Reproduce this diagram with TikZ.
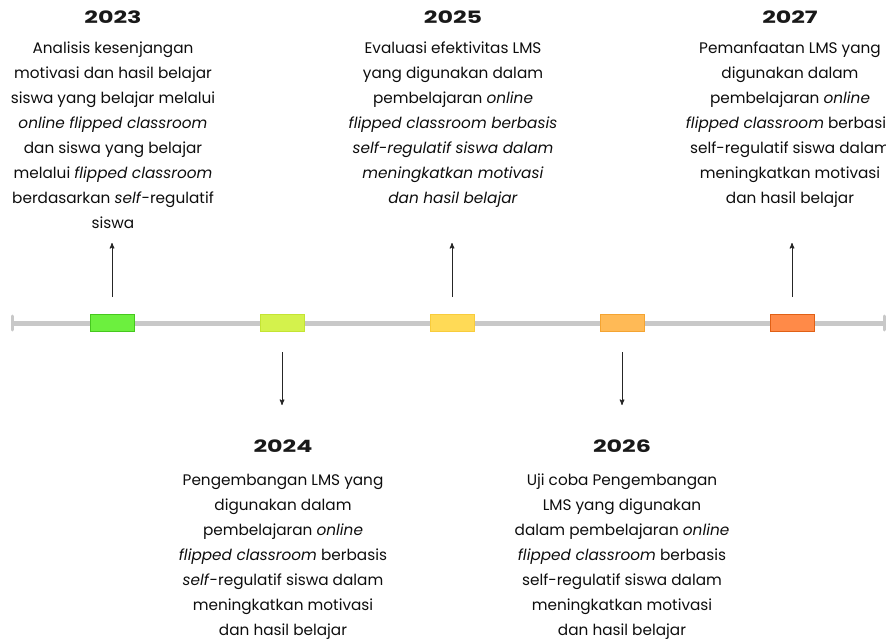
\documentclass[tikz,border=0pt]{standalone}
\usepackage{fontspec}
\setmainfont{Poppins}
\newfontfamily\yearfont[FakeStretch=1.4]{Poppins}
\usetikzlibrary{arrows,positioning}
\definecolor{bargray}{RGB}{200,200,200}
\definecolor{c23}{RGB}{108,240,62}  \definecolor{c23d}{RGB}{70,200,30}
\definecolor{c24}{RGB}{212,242,76}  \definecolor{c24d}{RGB}{196,228,52}
\definecolor{c25}{RGB}{255,218,86}  \definecolor{c25d}{RGB}{248,204,60}
\definecolor{c26}{RGB}{255,186,86}  \definecolor{c26d}{RGB}{244,164,50}
\definecolor{c27}{RGB}{255,138,72}  \definecolor{c27d}{RGB}{224,96,22}

\begin{document}
\begin{tikzpicture}[x=1pt,y=-1pt,>=stealth',node distance=170pt,semithick]
\useasboundingbox (0,0) rectangle (886,639);
\tikzstyle{slot}=[draw,minimum width=44pt,minimum height=17pt,inner sep=0pt,line width=0.8pt]
\tikzstyle{year}=[inner sep=0pt,text=black!90,font=\yearfont\bfseries\fontsize{17pt}{17pt}\selectfont]
\tikzstyle{info}=[align=center,anchor=north,inner sep=0pt,text=black!95,font=\fontsize{15.3pt}{24.9pt}\selectfont]
\tikzstyle{tick}=[->,line width=1pt,draw=black!85]

% timeline bar
\coordinate (L) at (12,323);
\coordinate (R) at (884,323);
\draw[line width=5pt,draw=bargray] (L) -- (R);
\draw[line width=3pt,draw=bargray,line cap=round] ([yshift=-7pt]L) -- ([yshift=7pt]L);
\draw[line width=3pt,draw=bargray,line cap=round] ([yshift=-7pt]R) -- ([yshift=7pt]R);

\node[slot,fill=c23,draw=c23d] (t23) at (112,323) {};
\node[slot,fill=c24,draw=c24d][right of=t23] (t24) {};
\node[slot,fill=c25,draw=c25d][right of=t24] (t25) {};
\node[slot,fill=c26,draw=c26d][right of=t25] (t26) {};
\node[slot,fill=c27,draw=c27d][right of=t26] (t27) {};

% arrows
\path (t23) ++(0,-26) coordinate (s23) ++(0,-54) coordinate (e23);
\path (t24) ++(0,29) coordinate (s24) ++(0,53) coordinate (e24);
\path (t25) ++(0,-26) coordinate (s25) ++(0,-54) coordinate (e25);
\path (t26) ++(0,29) coordinate (s26) ++(0,53) coordinate (e26);
\path (t27) ++(0,-26) coordinate (s27) ++(0,-54) coordinate (e27);
\foreach \n in {23,24,25,26,27}
  \draw[tick] (s\n) -- (e\n);

% years
\node[year] (y23) at (113,17) {2023};
\node[year] (y24) at (283,446) {2024};
\node[year] (y25) at (453,17) {2025};
\node[year] (y26) at (622,446) {2026};
\node[year] (y27) at (790,17) {2027};

% descriptions
\node[info] (d23) at (113,42) {Analisis kesenjangan\\ motivasi dan hasil belajar\\ siswa yang belajar melalui\\
  \textit{online flipped classroom}\\ dan siswa yang belajar\\ melalui \textit{flipped classroom}\\
  berdasarkan \textit{self}-regulatif\\ siswa};
\node[info] (d25) at (453,42) {Evaluasi efektivitas LMS\\ yang digunakan dalam\\ pembelajaran \textit{online}\\
  \textit{flipped classroom berbasis}\\ \textit{self-regulatif siswa dalam}\\
  \textit{meningkatkan motivasi}\\ \textit{dan hasil belajar}};
\node[info] (d27) at (790,42) {Pemanfaatan LMS yang\\ digunakan dalam\\ pembelajaran \textit{online}\\
  \textit{flipped classroom} berbasis\\ self-regulatif siswa dalam\\ meningkatkan motivasi\\
  dan hasil belajar};
\node[info] (d24) at (283,474) {Pengembangan LMS yang\\ digunakan dalam\\ pembelajaran \textit{online}\\
  \textit{flipped classroom} berbasis\\ \textit{self}-regulatif siswa dalam\\ meningkatkan motivasi\\
  dan hasil belajar};
\node[info] (d26) at (622,474) {Uji coba Pengembangan\\ LMS yang digunakan\\ dalam pembelajaran \textit{online}\\
  \textit{flipped classroom} berbasis\\ self-regulatif siswa dalam\\ meningkatkan motivasi\\
  dan hasil belajar};
\end{tikzpicture}
\end{document}
